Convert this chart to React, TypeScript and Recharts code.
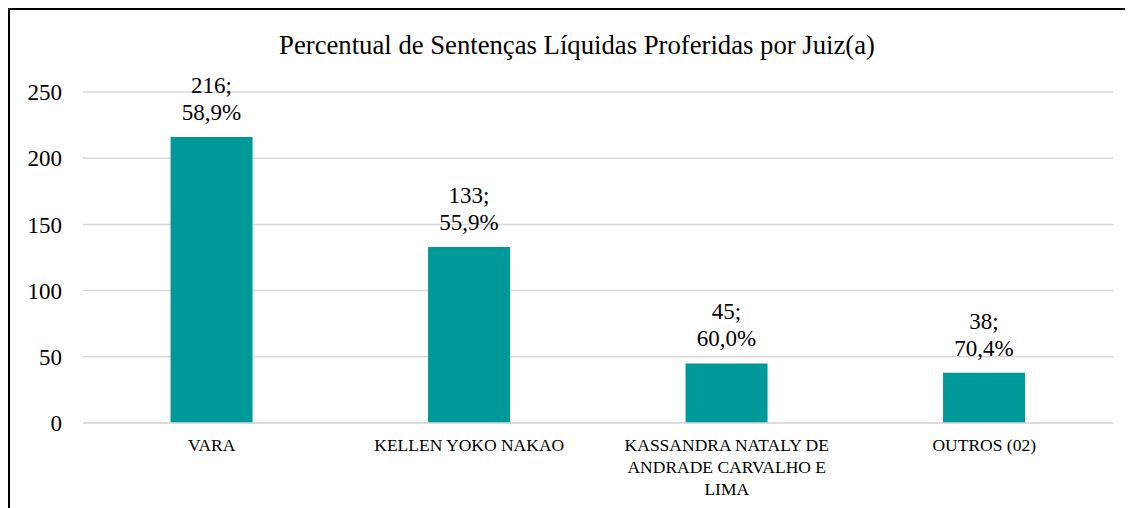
import React from "react";
import { BarChart, Bar, XAxis, YAxis, CartesianGrid, LabelList, Text } from "recharts";

const juizes: string[] = ["VARA", "KELLEN YOKO NAKAO", "KASSANDRA NATALY DE ANDRADE CARVALHO E LIMA", "OUTROS (02)"];
const sentencas: number[] = [216, 133, 45, 38];
const percentuais: string[] = ["58,9%", "55,9%", "60,0%", "70,4%"];
const ticksY: number[] = [0, 50, 100, 150, 200, 250];

const fonte = "Liberation Serif";
const corBarra = "#009999";

const dados = juizes.map((nome, i) => ({ nome, valor: sentencas[i] }));

const TickX = (props: any) => {
    const { x, y, payload } = props;
    return (
        <Text
            x={x}
            y={y}
            width={215}
            textAnchor="middle"
            verticalAnchor="start"
            fontSize={17.5}
            fontFamily={fonte}
            lineHeight={21.7}
            fill="#000"
        >
            {payload.value}
        </Text>
    );
};

const Rotulo = (props: any) => {
    const { x, y, width, index } = props;
    const cx = x + width / 2;
    return (
        <text x={cx} y={y - 44} textAnchor="middle" fill="#000" fontFamily={fonte} fontSize={23}>
            <tspan x={cx} dy={0}>{`${sentencas[index]};`}</tspan>
            <tspan x={cx} dy={27}>{percentuais[index]}</tspan>
        </text>
    );
};

const App: React.FC = () => {
    return (
        <div style={{ position: "relative", width: 1125, height: 500, borderLeft: "2px solid #000", borderTop: "2px solid #000", boxSizing: "border-box", overflow: "hidden", background: "#fff", fontFamily: fonte }}>
            <div style={{ position: "absolute", left: 0, top: 20, width: 1134, textAlign: "center", fontFamily: fonte, fontSize: 26.7, color: "#000", lineHeight: "30px", whiteSpace: "nowrap" }}>
                Percentual de Sentenças Líquidas Proferidas por Juiz(a)
            </div>
            <BarChart width={1123} height={498} data={dados} margin={{ top: 82, right: 20, left: 0, bottom: 0 }} barCategoryGap="34%">
                <CartesianGrid vertical={false} stroke="#d9d9d9" strokeWidth={1.5} />
                <XAxis dataKey="nome" tickLine={false} axisLine={{ stroke: "#d9d9d9", strokeWidth: 1.5 }} tickSize={0} tickMargin={16} height={85} interval={0} tick={<TickX />} />
                <YAxis domain={[0, 250]} ticks={ticksY} width={73} axisLine={false} tickLine={false} tickSize={0} tickMargin={21} tick={{ fontSize: 23, fill: "#000", fontFamily: fonte }} />
                <Bar dataKey="valor" fill={corBarra} isAnimationActive={false}>
                    <LabelList dataKey="valor" content={<Rotulo />} />
                </Bar>
            </BarChart>
        </div>
    );
};

export default App;
